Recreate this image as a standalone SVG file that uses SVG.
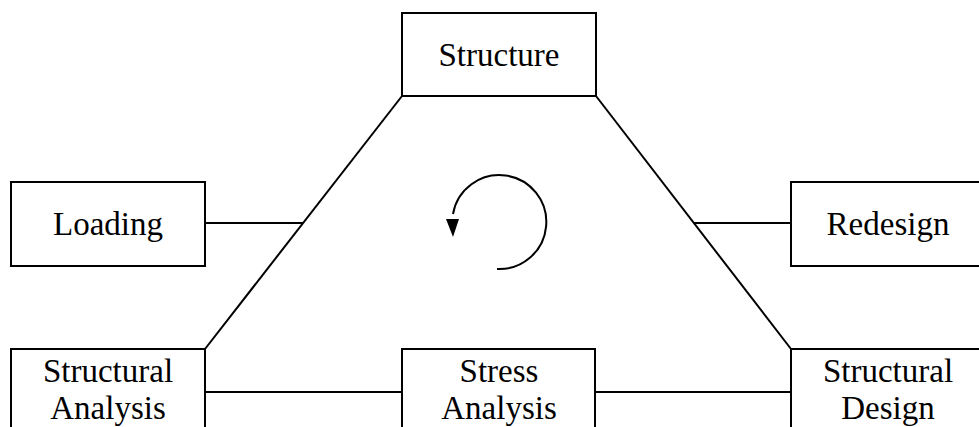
<svg xmlns="http://www.w3.org/2000/svg" width="979" height="427" viewBox="0 0 979 427">
<style>
.box{fill:#fff;stroke:#000;stroke-width:2}
.ln{fill:none;stroke:#000;stroke-width:2}
text{font-family:"Liberation Serif","Times New Roman",serif;font-size:33px;fill:#000;text-anchor:middle}
</style>
<rect width="979" height="427" fill="#fff"/>
<g id="connectors">
<path class="ln" d="M402 96 L205 349"/>
<path class="ln" d="M596 96 L791 349"/>
<path class="ln" d="M205 223 L303 223"/>
<path class="ln" d="M694 223 L791 223"/>
<path class="ln" d="M205 392 L402 392"/>
<path class="ln" d="M595 392 L791 392"/>
</g>
<g id="cycle">
<path class="ln" d="M497 269 A47 47 0 1 0 453 214"/>
<polygon points="446,219 459,219 453,237" fill="#000"/>
</g>
<g id="structure">
<rect class="box" x="402" y="13" width="194" height="83"/>
<text x="499" y="66">Structure</text>
</g>
<g id="loading">
<rect class="box" x="11" y="182" width="194" height="84"/>
<text x="108" y="235">Loading</text>
</g>
<g id="redesign">
<rect class="box" x="791" y="182" width="194" height="84"/>
<text x="888" y="235">Redesign</text>
</g>
<g id="structural-analysis">
<rect class="box" x="11" y="349" width="194" height="90"/>
<text x="108" y="382">Structural</text>
<text x="108" y="419">Analysis</text>
</g>
<g id="stress-analysis">
<rect class="box" x="402" y="349" width="193" height="90"/>
<text x="499" y="382">Stress</text>
<text x="499" y="419">Analysis</text>
</g>
<g id="structural-design">
<rect class="box" x="791" y="349" width="194" height="90"/>
<text x="888" y="382">Structural</text>
<text x="888" y="419">Design</text>
</g>
</svg>
